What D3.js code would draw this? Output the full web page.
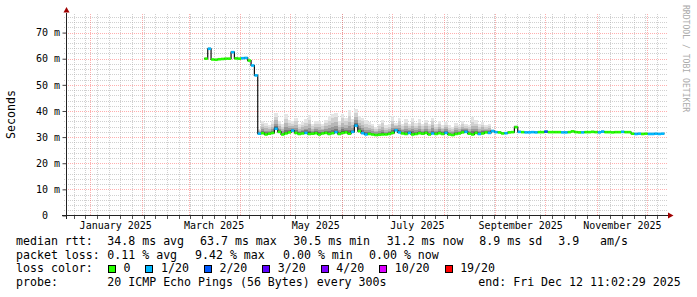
<!DOCTYPE html>
<html>
<head>
<meta charset="utf-8">
<script src="https://cdn.jsdelivr.net/npm/d3@7"></script>
<style>
body { margin: 0; background: #fff; }
svg { display: block; font-family: "DejaVu Sans Mono", monospace; }
text { white-space: pre; }
</style>
</head>
<body>
<svg width="697" height="297"></svg>
<script>
// graph window: last 360 days up to the end time
var tStart = new Date("2024-12-17T11:02:29Z");
var tEnd = new Date("2025-12-12T11:02:29Z");

// one sample every 2 days, starting here
var dataStart = new Date("2025-03-10T12:00:00Z");
var stepDays = 2;

// median rtt in ms
var median = [
  60.0, 63.8, 59.7, 59.6, 59.8, 59.9, 60.0, 60.0, 62.5, 60.1, 60.0, 60.2, 60.3, 59.3, 57.4, 53.6,
  31.3, 31.5, 31.0, 31.3, 31.6, 33.2, 32.0, 31.0, 31.4, 31.8,
  32.5, 31.6, 31.2, 31.4, 31.6, 31.2, 31.3, 31.5, 31.0, 31.4,
  31.6, 31.2, 31.5, 31.9, 31.2, 31.6, 31.8, 31.3, 32.0, 34.4,
  32.3, 31.5, 31.0, 31.2, 31.0, 30.8, 30.9, 31.0, 31.0, 31.2,
  31.6, 32.6, 31.8, 31.4, 31.2, 31.6, 31.0, 31.2, 31.5, 31.3,
  31.6, 31.0, 31.4, 31.2, 31.5, 31.2, 31.6, 31.0, 30.8, 31.2,
  31.4, 31.8, 32.0, 31.3, 31.0, 31.6, 31.2, 31.4, 31.8, 31.6,
  32.3,
  31.9, 31.8, 31.4, 31.5, 31.8, 31.9, 33.8, 32.0, 31.9, 31.8,
  31.8, 31.9, 31.8, 31.9, 31.9, 32.1, 31.9, 31.9, 31.9, 31.9,
  31.8, 31.8, 31.9, 32.2, 31.9, 31.8, 31.8, 31.9, 31.9, 32.0,
  31.9, 31.8, 32.1, 31.9, 31.9, 31.8, 31.9, 31.9, 32.0, 31.9,
  31.9, 31.3, 31.2, 31.3, 31.2, 31.3, 31.2, 31.2, 31.3, 31.2,
  31.3
];

// top of the smoke (slowest ping) in ms
var smokeHi = [
  60.5, 64.5, 60.2, 60.1, 60.3, 60.4, 60.5, 60.5, 63.0, 60.6, 60.5, 60.7, 60.8, 59.8, 57.9, 54.1,
  33.0, 36.3, 35.5, 34.5, 36.0, 39.4, 36.0, 35.0, 39.0, 36.5,
  36.0, 37.5, 35.0, 35.8, 36.8, 38.5, 35.0, 36.0, 36.3, 35.0,
  36.6, 38.0, 39.0, 39.4, 36.0, 39.0, 37.5, 40.2, 37.0, 40.9,
  38.0, 37.5, 36.5, 35.6, 35.2, 34.0, 35.2, 36.7, 34.5, 35.0,
  37.9, 35.5, 37.5, 35.0, 37.0, 35.0, 37.5, 35.5, 36.8, 35.0,
  36.5, 35.2, 37.5, 35.0, 36.2, 34.5, 35.7, 34.5, 34.0, 35.5,
  34.8, 36.0, 35.0, 34.5, 37.6, 36.4, 35.0, 35.8, 34.5, 35.0,
  33.0,
  32.5, 32.4, 32.0, 32.1, 32.4, 32.5, 34.6, 32.6, 32.5, 32.4,
  32.4, 32.5, 32.4, 32.5, 32.5, 32.7, 32.5, 32.5, 32.5, 32.5,
  32.4, 32.4, 32.5, 32.8, 32.5, 32.4, 32.4, 32.5, 32.5, 32.6,
  32.5, 32.4, 32.7, 32.5, 32.5, 32.4, 32.5, 32.5, 32.6, 32.5,
  32.5, 31.9, 31.8, 31.9, 31.8, 31.9, 31.8, 31.8, 31.9, 31.8,
  31.9
];

// lost pings out of 20
var loss = [
  0, 1, 0, 0, 0, 0, 0, 0, 1, 0, 0, 1, 1, 0, 1, 1,
  1, 0, 0, 0, 0, 1, 0, 0, 0, 0,
  1, 0, 0, 0, 1, 0, 0, 0, 0, 0,
  0, 0, 0, 1, 0, 0, 0, 0, 1, 1,
  0, 1, 1, 0, 0, 0, 0, 0, 0, 0,
  0, 1, 1, 0, 0, 1, 0, 0, 0, 0,
  0, 0, 1, 0, 0, 0, 1, 0, 0, 0,
  0, 0, 1, 0, 0, 0, 1, 0, 0, 1,
  1,
  1, 0, 0, 1, 0, 0, 0, 1, 0, 1,
  1, 1, 1, 0, 0, 2, 0, 0, 0, 0,
  1, 1, 0, 0, 0, 0, 1, 0, 0, 0,
  0, 1, 1, 0, 0, 0, 0, 0, 1, 0,
  0, 0, 1, 1, 0, 0, 1, 1, 1, 1,
  1
];

var lossSteps = [0, 1, 2, 3, 4, 10, 19];
var lossLabels = ["0", "1/20", "2/20", "3/20", "4/20", "10/20", "19/20"];
var lossColors = ["#26ff00", "#00b8ff", "#0059ff", "#5e00ff", "#7e00ff", "#dd00ff", "#ff0000"];

var yTicks = [0, 10, 20, 30, 40, 50, 60, 70];
var yLabels = ["0  ", "10 m", "20 m", "30 m", "40 m", "50 m", "60 m", "70 m"];
var xLabelDates = ["2025-01-16", "2025-03-16", "2025-05-16", "2025-07-16", "2025-09-16", "2025-11-16"];
var xLabels = ["January 2025", "March 2025", "May 2025", "July 2025", "September 2025", "November 2025"];

// legend rows, split into the pieces rrdtool lays out one by one
var rttLegend = ["median rtt:", "34.8 ms avg", "63.7 ms max", "30.5 ms min", "31.2 ms now", "8.9 ms sd", "3.9", "am/s"];
var lossLegend = ["packet loss:", "0.11 % avg", "9.42 % max", "0.00 % min", "0.00 % now"];
var probeLegend = ["probe:", "20 ICMP Echo Pings (56 Bytes) every 300s", "end: Fri Dec 12 11:02:29 2025"];

var svg = d3.select("svg");
var x0 = 66, x1 = 666, yTop = 13.5, yBot = 215.5;

var x = d3.scaleUtc().domain([tStart, tEnd]).range([x0, x1]);
var y = d3.scaleLinear().domain([0, 77.3]).range([yBot, yTop]);

var day = 864e5;
var pts = median.map(function (m, i) {
  return { t: new Date(+dataStart + i * stepDays * day), med: m, hi: smokeHi[i], loss: loss[i] };
});
var tAfter = function (i) { return new Date(+dataStart + (i + 1) * stepDays * day); };

function lossColor(n) {
  var k = 0;
  lossSteps.forEach(function (s, j) { if (n >= s) k = j; });
  return lossColors[k];
}

// grid: minor weekly / every 2 m, major monthly / every 10 m
var grid = svg.append("g").attr("shape-rendering", "crispEdges");
var minor = "rgba(170,170,170,0.55)", major = "rgba(255,64,64,0.42)";

d3.range(2, 77.3, 2).forEach(function (v) {
  if (v % 10 === 0) return;
  var py = Math.round(y(v)) + 0.5;
  grid.append("line").attr("x1", x0 - 2).attr("x2", x1 + 2).attr("y1", py).attr("y2", py)
    .attr("stroke", minor).attr("stroke-dasharray", "1,1");
});
d3.utcSunday.range(tStart, tEnd).forEach(function (d) {
  var px = Math.round(x(d)) + 0.5;
  grid.append("line").attr("x1", px).attr("x2", px).attr("y1", yTop).attr("y2", yBot)
    .attr("stroke", minor).attr("stroke-dasharray", "1,1");
  grid.append("line").attr("x1", px).attr("x2", px).attr("y1", yBot).attr("y2", yBot + 3)
    .attr("stroke", "#555");
});
yTicks.slice(1).forEach(function (v) {
  var py = Math.round(y(v)) + 0.5;
  grid.append("line").attr("x1", x0 - 2).attr("x2", x1 + 2).attr("y1", py).attr("y2", py)
    .attr("stroke", major).attr("stroke-dasharray", "1,1");
});
d3.utcMonth.range(tStart, tEnd).forEach(function (d) {
  var px = Math.round(x(d)) + 0.5;
  grid.append("line").attr("x1", px).attr("x2", px).attr("y1", yTop).attr("y2", yBot)
    .attr("stroke", major).attr("stroke-dasharray", "1,1");
});

// smoke: shaded bands from the median up to the slowest ping
var bandEdges = [0, 0.08, 0.18, 0.32, 0.52, 0.75, 1];
var bandShades = ["#4a4a4a", "#777", "#999", "#b7b7b7", "#d0d0d0", "#e5e5e5"];
var smoke = svg.append("g").attr("shape-rendering", "crispEdges");
pts.forEach(function (p, i) {
  var xa = x(p.t), xb = x(tAfter(i));
  for (var k = 0; k < bandShades.length; k++) {
    var v0 = p.med + (p.hi - p.med) * bandEdges[k];
    var v1 = p.med + (p.hi - p.med) * bandEdges[k + 1];
    smoke.append("rect").attr("x", xa).attr("width", xb - xa)
      .attr("y", y(v1)).attr("height", y(v0) - y(v1))
      .attr("fill", bandShades[k]);
  }
});

// median: thin dark step line, then one coloured dash per sample on top
var step = d3.line().x(function (d) { return x(d.t); }).y(function (d) { return y(d.med); })
  .curve(d3.curveStepAfter);
var full = pts.concat([{ t: tAfter(pts.length - 1), med: median[median.length - 1] }]);
svg.append("path").attr("d", step(full)).attr("fill", "none")
  .attr("stroke", "#101010").attr("stroke-width", 1.2);

svg.append("g").selectAll("line").data(pts).join("line")
  .attr("x1", function (d) { return x(d.t); })
  .attr("x2", function (d, i) { return x(tAfter(i)); })
  .attr("y1", function (d) { return y(d.med); })
  .attr("y2", function (d) { return y(d.med); })
  .attr("stroke", function (d) { return lossColor(d.loss); })
  .attr("stroke-width", 2.6);

// axes
var yAxis = svg.append("g").attr("transform", "translate(" + (x0 + 0.5) + ",0)")
  .call(d3.axisLeft(y).tickValues(yTicks).tickSize(4).tickPadding(2.5)
    .tickFormat(function (d, i) { return yLabels[i]; }));
yAxis.select(".domain").remove();
yAxis.selectAll("text").attr("font-family", "DejaVu Sans Mono").attr("font-size", 10).attr("fill", "#000");
yAxis.selectAll("line").attr("stroke", "#444");

var xAxis = svg.append("g").attr("transform", "translate(0," + yBot + ")")
  .call(d3.axisBottom(x).tickValues(xLabelDates.map(function (s) { return new Date(s + "T00:00:00Z"); }))
    .tickSize(0).tickPadding(6.5)
    .tickFormat(function (d, i) { return xLabels[i]; }));
xAxis.select(".domain").remove();
xAxis.selectAll("text").attr("font-family", "DejaVu Sans Mono").attr("font-size", 10).attr("fill", "#000");

svg.append("line").attr("x1", x0 - 4).attr("x2", x1 + 3).attr("y1", yBot).attr("y2", yBot)
  .attr("stroke", "#222").attr("shape-rendering", "crispEdges");
svg.append("line").attr("x1", x0 + 0.5).attr("x2", x0 + 0.5).attr("y1", yBot + 3).attr("y2", yTop - 1)
  .attr("stroke", "#222").attr("shape-rendering", "crispEdges");
svg.append("path").attr("d", "M" + (x1 + 2) + "," + (yBot - 3) + "L" + (x1 + 7.5) + "," + yBot + "L" + (x1 + 2) + "," + (yBot + 3) + "Z")
  .attr("fill", "#a00000");
svg.append("path").attr("d", "M" + (x0 - 2.5) + "," + (yTop - 1) + "L" + (x0 + 0.5) + "," + (yTop - 6.5) + "L" + (x0 + 3.5) + "," + (yTop - 1) + "Z")
  .attr("fill", "#a00000");

// titles
svg.append("text").attr("transform", "translate(14.5," + ((yTop + yBot) / 2) + ") rotate(-90)")
  .attr("text-anchor", "middle").attr("font-size", 11.6).text("Seconds");
svg.append("text").attr("transform", "translate(683,5) rotate(90)")
  .attr("font-size", 8.1).attr("fill", "#aaa").text("RRDTOOL / TOBI OETIKER");

// legend
var fs = 11.6, cw = fs * 0.602;
var lineY = [245, 258.5, 272.3, 286];
function legendRow(pieces, xs, row) {
  pieces.forEach(function (s, i) {
    svg.append("text").attr("x", xs[i]).attr("y", lineY[row]).attr("font-size", fs).text(s);
  });
}
legendRow(rttLegend, [16, 107.3, 200, 293.3, 386.7, 479.3, 558.3, 600], 0);
legendRow(lossLegend, [16, 107.3, 195, 283, 369], 1);
legendRow(["loss color:"], [16], 2);
legendRow(probeLegend, [16, 107.3, 478.3], 3);

var bx = 108.5;
lossLabels.forEach(function (lab, i) {
  svg.append("rect").attr("x", bx).attr("y", 265.5).attr("width", 7).attr("height", 7)
    .attr("fill", lossColors[i]).attr("stroke", "#000").attr("shape-rendering", "crispEdges");
  svg.append("text").attr("x", bx + 15).attr("y", lineY[2]).attr("font-size", fs).text(lab);
  bx = bx + 15 + lab.length * cw + 15.5;
});
</script>
</body>
</html>
